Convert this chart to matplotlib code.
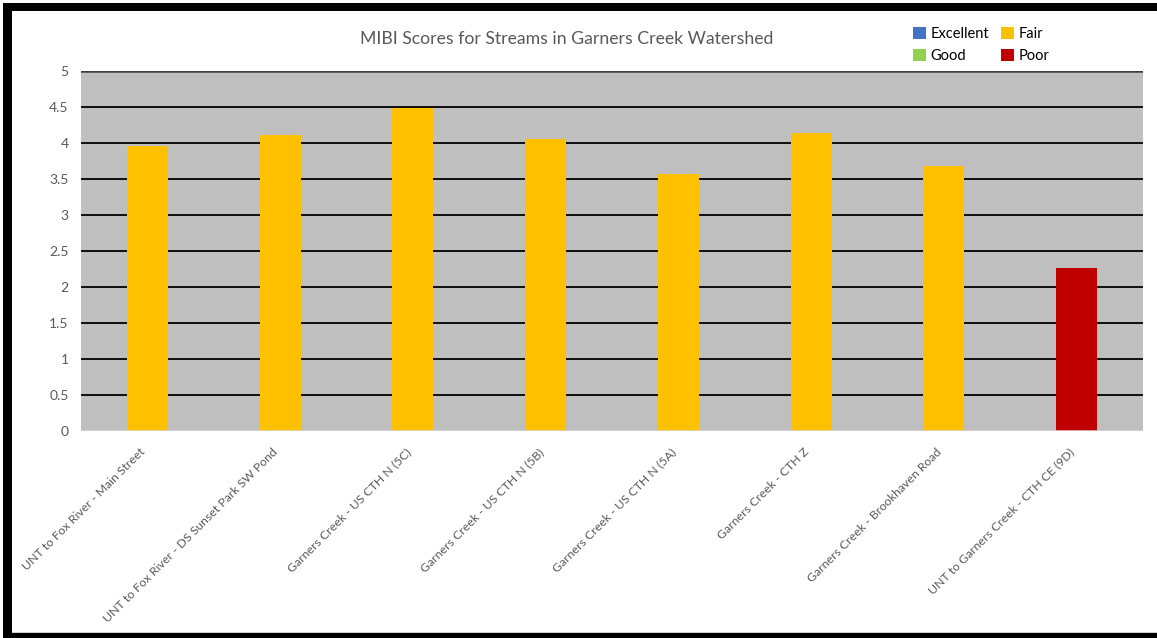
import matplotlib.pyplot as plt
from matplotlib.patches import Patch, Rectangle
import matplotlib as mpl

mpl.rcParams.update({
    "font.family": ["Lato", "DejaVu Sans"],
    "text.color": "#595959",
    "xtick.color": "#595959",
    "ytick.color": "#595959",
})

# MIBI score per station
stations = [
    "UNT to Fox River - Main Street",
    "UNT to Fox River - DS Sunset Park SW Pond",
    "Garners Creek - US CTH N (5C)",
    "Garners Creek - US CTH N (5B)",
    "Garners Creek - US CTH N (5A)",
    "Garners Creek - CTH Z",
    "Garners Creek - Brookhaven Road",
    "UNT to Garners Creek - CTH CE (9D)",
]
scores = [3.96, 4.11, 4.48, 4.06, 3.57, 4.14, 3.68, 2.26]
ratings = ["Fair", "Fair", "Fair", "Fair", "Fair", "Fair", "Fair", "Poor"]

rating_names = ["Excellent", "Good", "Fair", "Poor"]
rating_colors = {"Excellent": "#4472C4", "Good": "#92D050",
                 "Fair": "#FFC000", "Poor": "#C00000"}
yticks = [0, 0.5, 1, 1.5, 2, 2.5, 3, 3.5, 4, 4.5, 5]

W, H = 1157, 638
fig = plt.figure(figsize=(W / 100, H / 100), dpi=100)
ax = fig.add_axes([81 / W, 1 - 431 / H, (1143 - 81) / W, 360 / H])
ax.set_facecolor("#BFBFBF")

x = list(range(len(stations)))
ax.bar(x, scores, width=0.31, color=[rating_colors[r] for r in ratings], zorder=3)

for t in yticks[1:-1]:
    ax.axhline(t, color="black", lw=1.3, zorder=2)
ax.axhline(5, color="#404040", lw=1.8, zorder=2)
ax.axhline(0, color="#D9D9D9", lw=1.8, zorder=4)

ax.set_xlim(-0.5, len(stations) - 0.5)
ax.set_ylim(0, 5)
ax.set_yticks(yticks)
ax.set_yticklabels([f"{t:g}" for t in yticks], fontsize=10)
ax.set_xticks(x)
ax.set_xticklabels(stations, rotation=45, ha="right", va="top", fontsize=8.8)
ax.tick_params(axis="y", length=0, pad=9)
ax.tick_params(axis="x", length=0, pad=11)
for s in ax.spines.values():
    s.set_visible(False)

fig.text(567 / W, 1 - 39 / H, "MIBI Scores for Streams in Garners Creek Watershed",
         ha="center", va="center", fontsize=12.7, color="#595959")

handles = [Patch(facecolor=rating_colors[r], edgecolor="none", label=r) for r in rating_names]
fig.legend(handles=handles, ncol=2, loc="upper left",
           bbox_to_anchor=(906 / W, 1 - 20 / H), frameon=False,
           fontsize=10.5, handlelength=0.9, handleheight=0.9,
           handletextpad=0.3, columnspacing=0.8, labelspacing=0.5,
           borderpad=0, labelcolor="black")

# black frame around the figure
frame = [(3, 3, W - 3, 8), (3, 3, 9, H - 3), (3, 633, W - 3, 5)]
for fx, fy, fw, fh in frame:
    fig.add_artist(Rectangle((fx / W, 1 - (fy + fh) / H), fw / W, fh / H,
                             transform=fig.transFigure, color="black", lw=0))
fig.add_artist(Rectangle((12 / W, 1 - 633 / H), (W - 12) / W, 1.5 / H,
                         transform=fig.transFigure, color="#D0D0D0", lw=0))

fig.savefig("out.png", dpi=100)
